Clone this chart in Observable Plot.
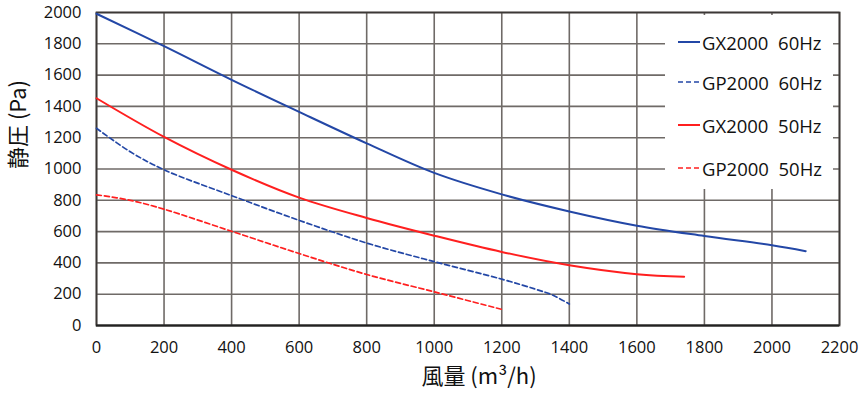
<!DOCTYPE html>
<html>
<head>
<meta charset="utf-8">
<script src="https://cdn.jsdelivr.net/npm/d3@7"></script>
<script src="https://cdn.jsdelivr.net/npm/@observablehq/plot@0.6"></script>
<style>
  html, body { margin: 0; padding: 0; background: #fff; }
  #wrap { position: relative; width: 860px; height: 395px; font-family: "Open Sans", "Noto Sans CJK JP", sans-serif; }
  #legend { position: absolute; left: 665px; top: 15px; width: 168px; height: 174px; background: #fff; }
  .entry { position: absolute; left: 12px; height: 20px; display: flex; align-items: center; font-size: 18.5px; color: #111; white-space: pre; }
  .entry svg { margin-right: 1px; }
</style>
</head>
<body>
<div id="wrap"></div>
<script>
// ---- data ----
const xTicks = [0, 200, 400, 600, 800, 1000, 1200, 1400, 1600, 1800, 2000, 2200];
const yTicks = [0, 200, 400, 600, 800, 1000, 1200, 1400, 1600, 1800, 2000];

const seriesNames = ["GX2000  60Hz", "GP2000  60Hz", "GX2000  50Hz", "GP2000  50Hz"];

const gx60Flow = [0, 200, 400, 600, 800, 1000, 1200, 1400, 1600, 1800, 2000, 2100];
const gx60Pres = [1992, 1785, 1570, 1365, 1164, 975, 838, 729, 638, 572, 513, 475];

const gp60Flow = [0, 100, 200, 400, 600, 800, 1000, 1200, 1300, 1350, 1400];
const gp60Pres = [1260, 1110, 995, 830, 672, 527, 408, 296, 232, 195, 137];

const gx50Flow = [0, 200, 400, 600, 800, 1000, 1200, 1400, 1600, 1740];
const gx50Pres = [1452, 1205, 995, 817, 687, 574, 470, 385, 328, 311];

const gp50Flow = [0, 100, 200, 400, 600, 800, 1000, 1200];
const gp50Pres = [835, 800, 743, 602, 460, 326, 215, 103];

const colors = ["#2347a6", "#2347a6", "#ff1f1f", "#ff1f1f"];
const dashes = [null, "5,3", null, "5,3"];

// ---- build table ----
const flows = [gx60Flow, gp60Flow, gx50Flow, gp50Flow];
const press = [gx60Pres, gp60Pres, gx50Pres, gp50Pres];
const series = seriesNames.map((name, i) => ({
  name, color: colors[i], dash: dashes[i],
  data: flows[i].map((f, j) => ({x: f, y: press[i][j]}))
}));

const font = '"Open Sans", "Noto Sans CJK JP", sans-serif';
const cjk = '"Noto Sans CJK JP", sans-serif';

const plot = Plot.plot({
  width: 860,
  height: 395,
  marginLeft: 96,
  marginRight: 21,
  marginTop: 12,
  marginBottom: 70,
  style: {fontFamily: font, background: "#fff", color: "#111"},
  x: {domain: [0, 2200]},
  y: {domain: [0, 2000]},
  marks: [
    Plot.gridX(xTicks, {stroke: "#6f6a67", strokeOpacity: 1, strokeWidth: 1.6}),
    Plot.gridY(yTicks, {stroke: "#6f6a67", strokeOpacity: 1, strokeWidth: 1.6}),
    Plot.frame({stroke: "#3c3836", strokeWidth: 1.8}),
    Plot.ruleY([0], {stroke: "#222", strokeWidth: 2}),
    ...series.map(s => Plot.line(s.data, {
      x: "x", y: "y", curve: "catmull-rom",
      stroke: s.color, strokeWidth: s.dash ? 1.7 : 2,
      strokeDasharray: s.dash
    })),
    Plot.axisX(xTicks, {tickSize: 0, tickPadding: 16, fontSize: 16.5, label: null, tickFormat: d => String(d)}),
    Plot.axisY(yTicks, {tickSize: 0, tickPadding: 15, fontSize: 16.5, label: null, tickFormat: d => String(d)}),
    Plot.text(["風量 (m³/h)"], {frameAnchor: "bottom", dy: 58, dx: 11, fontSize: 22, fill: "#111", fontFamily: cjk}),
    Plot.text(["静圧 (Pa)"], {frameAnchor: "left", dx: -78, rotate: -90, fontSize: 22, fill: "#111", fontFamily: cjk})
  ]
});

const wrap = document.getElementById("wrap");
wrap.appendChild(plot);

// ---- legend overlay ----
const legend = document.createElement("div");
legend.id = "legend";
const tops = [17, 57, 100, 143];
series.forEach((s, i) => {
  const e = document.createElement("div");
  e.className = "entry";
  e.style.top = tops[i] + "px";
  const sample = d3.create("svg").attr("width", 24).attr("height", 10);
  sample.append("line").attr("x1", 1).attr("x2", 23).attr("y1", 5).attr("y2", 5)
    .attr("stroke", s.color).attr("stroke-width", s.dash ? 1.7 : 2)
    .attr("stroke-dasharray", s.dash);
  e.appendChild(sample.node());
  const t = document.createElement("span");
  t.textContent = s.name;
  e.appendChild(t);
  legend.appendChild(e);
});
wrap.appendChild(legend);
</script>
</body>
</html>
